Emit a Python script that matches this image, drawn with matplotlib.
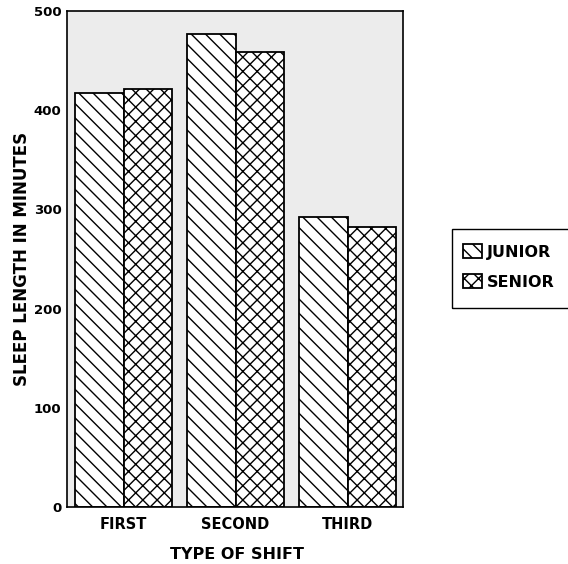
import matplotlib
matplotlib.use("Agg")
import matplotlib.pyplot as plt
import matplotlib.backend_bases as bb
from matplotlib.patches import Rectangle
import numpy as np

categories = ["FIRST", "SECOND", "THIRD"]
junior = [417, 477, 292]
senior = [421, 459, 282]
yticks = [0, 100, 200, 300, 400, 500]

# slightly denser hatch spacing than default
_orig_ghp = bb.GraphicsContextBase.get_hatch_path
def _ghp(self, density=7.0):
    return _orig_ghp(self, density)
bb.GraphicsContextBase.get_hatch_path = _ghp

plt.rcParams['font.family'] = ['DejaVu Sans']
plt.rcParams['font.weight'] = 'bold'
plt.rcParams['hatch.linewidth'] = 1.0
plt.rcParams['hatch.color'] = 'black'

fig = plt.figure(figsize=(5.68, 5.64), dpi=100)
ax = fig.add_axes([0.118, 0.101, 0.5915, 0.8794])
ax.set_facecolor('#ececec')

x = np.arange(len(categories))
w = 0.43
b1 = ax.bar(x - w/2, junior, w, facecolor='white', edgecolor='black',
            linewidth=1.3, hatch='\\\\', label='JUNIOR')
b2 = ax.bar(x + w/2, senior, w, facecolor='white', edgecolor='black',
            linewidth=1.3, hatch='xx', label='SENIOR')

ax.set_xlim(-0.505, 2.495)
ax.set_ylim(0, 500)
ax.set_yticks(yticks)
ax.set_yticklabels([str(v) for v in yticks], fontsize=9.5, fontweight='bold')
ax.set_xticks(x)
ax.set_xticklabels(categories, fontsize=10.5, fontweight='bold')
ax.tick_params(axis='both', length=0)
ax.tick_params(axis='y', pad=4)
ax.tick_params(axis='x', pad=7)
for s in ax.spines.values():
    s.set_linewidth(1.2)

fig.text(0.417, 0.0089, 'TYPE OF SHIFT', ha='center', va='baseline',
         fontsize=11.5, fontweight='bold')
fig.text(22/568, 1 - 258.5/564, 'SLEEP LENGTH IN MINUTES', ha='center',
         va='center', rotation=90, fontsize=12, fontweight='bold')

leg = fig.legend(handles=[b1, b2], labels=['JUNIOR', 'SENIOR'],
                 loc='center left',
                 bbox_to_anchor=(463/568, 1 - 267/564),
                 frameon=False,
                 prop={'size': 11.5, 'weight': 'bold'},
                 handlelength=1.2, handleheight=1.0, handletextpad=0.3,
                 borderpad=0, labelspacing=0.9, borderaxespad=0)
fig.add_artist(Rectangle((452/568, 1 - 308/564), 0.3, 79/564,
                         transform=fig.transFigure, fill=False,
                         edgecolor='black', linewidth=1.0))

fig.savefig('out.png', dpi=100)
